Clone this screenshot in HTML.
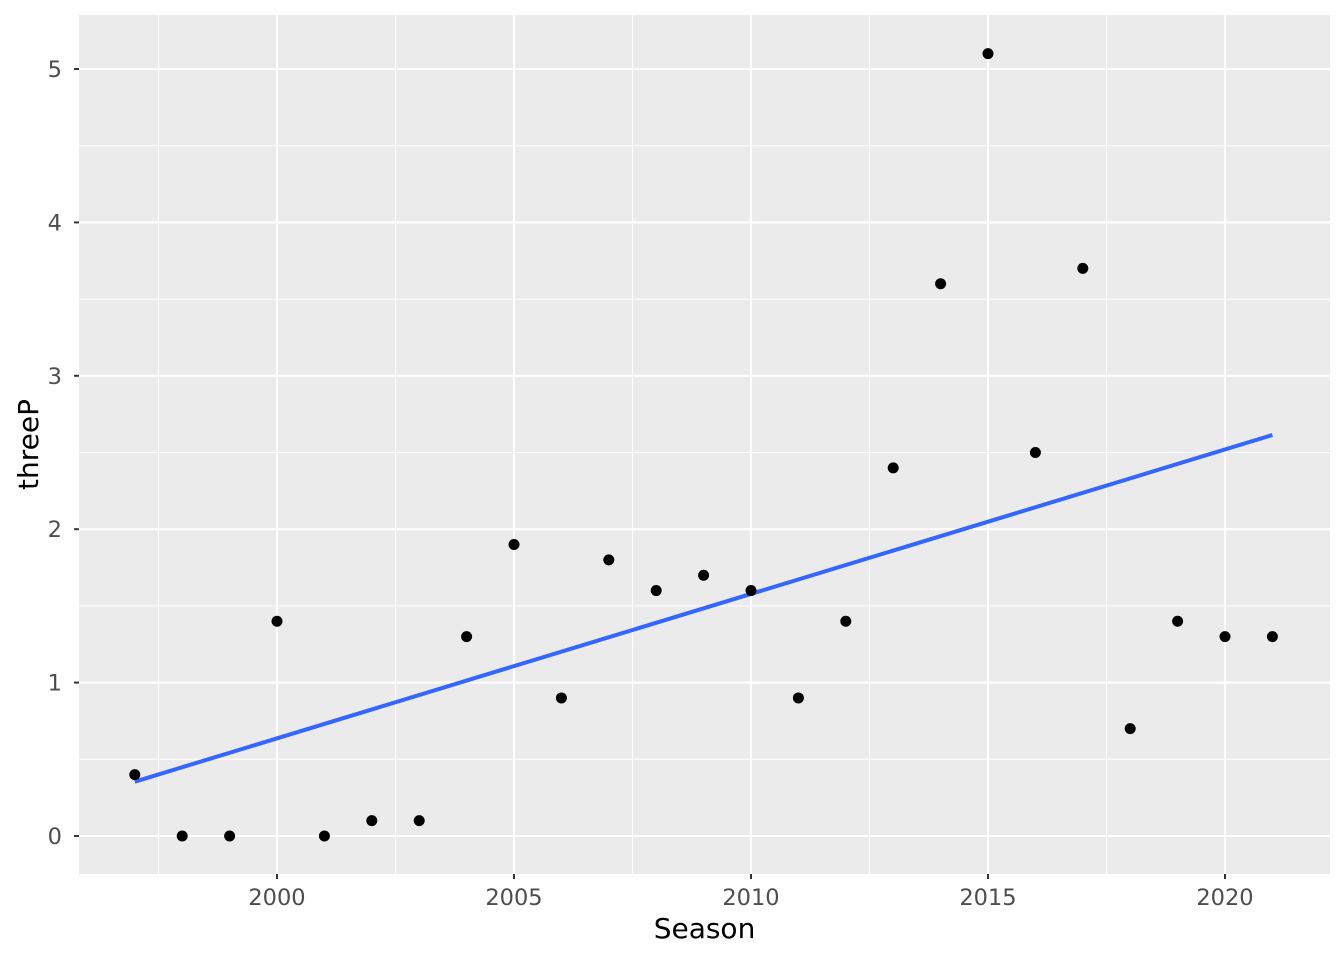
<!DOCTYPE html>
<html><head><meta charset="utf-8"><style>
body{margin:0;background:#fff;}
svg{display:block;font-family:"DejaVu Sans","Liberation Sans",sans-serif;}
</style></head><body>
<svg id="chart" width="1344" height="960"></svg>
<script>
const seasons=[1997,1998,1999,2000,2001,2002,2003,2004,2005,2006,2007,2008,2009,2010,2011,2012,2013,2014,2015,2016,2017,2018,2019,2020,2021];
const threeP=[0.4,0,0,1.4,0,0.1,0.1,1.3,1.9,0.9,1.8,1.6,1.7,1.6,0.9,1.4,2.4,3.6,5.1,2.5,3.7,0.7,1.4,1.3,1.3];
const xTicks=[2000,2005,2010,2015,2020];
const yTicks=[0,1,2,3,4,5];
const ns="http://www.w3.org/2000/svg";
const svg=document.getElementById('chart');
const L=79,R=1330,T=15,B=874;
const xs=v=>277+(v-2000)*47.4;
const ys=v=>836-v*153.4;
function mk(t,a,p){const e=document.createElementNS(ns,t);for(const k in a)e.setAttribute(k,a[k]);(p||svg).appendChild(e);return e;}
const panel=mk('rect',{x:L,y:T,width:R-L,height:B-T,fill:'#EBEBEB'});


const g=mk('g',{});


for(let i=0;i<xTicks.length;i++){const m=xTicks[i]-2.5;mk('line',{x1:xs(m),x2:xs(m),y1:T,y2:B,stroke:'#fff','stroke-width':1},g);}
mk('line',{x1:xs(2022.5),x2:xs(2022.5),y1:T,y2:B,stroke:'#fff','stroke-width':1},g);
for(let i=0;i<yTicks.length;i++){const m=yTicks[i]+0.5;mk('line',{x1:L,x2:R,y1:ys(m),y2:ys(m),stroke:'#fff','stroke-width':1},g);}
xTicks.forEach(v=>mk('line',{x1:xs(v),x2:xs(v),y1:T,y2:B,stroke:'#fff','stroke-width':2.1},g));
yTicks.forEach(v=>mk('line',{x1:L,x2:R,y1:ys(v),y2:ys(v),stroke:'#fff','stroke-width':2.1},g));
xTicks.forEach(v=>{mk('line',{x1:xs(v),x2:xs(v),y1:B,y2:B+5,stroke:'#333','stroke-width':2});
const t=mk('text',{x:xs(v),y:905,'text-anchor':'middle','font-size':22.5,fill:'#4D4D4D'});t.textContent=v;
});
yTicks.forEach(v=>{mk('line',{x1:L-5,x2:L,y1:ys(v),y2:ys(v),stroke:'#333','stroke-width':2});
const t=mk('text',{x:L-17,y:ys(v)+8,'text-anchor':'end','font-size':22.5,fill:'#4D4D4D'});t.textContent=v;
});
const n=seasons.length;const mx=seasons.reduce((a,b)=>a+b)/n,my=threeP.reduce((a,b)=>a+b)/n;
let sxy=0,sxx=0;for(let i=0;i<n;i++){sxy+=(seasons[i]-mx)*(threeP[i]-my);sxx+=(seasons[i]-mx)**2;}
const b=sxy/sxx,a=my-b*mx;
const x0=seasons[0],x1=seasons[n-1];
const ln=mk('line',{x1:xs(x0),y1:ys(a+b*x0),x2:xs(x1),y2:ys(a+b*x1),stroke:'#3366FF','stroke-width':4});


for(let i=0;i<n;i++){const c=mk('circle',{cx:xs(seasons[i]),cy:ys(threeP[i]),r:5.5,fill:'#000'});

}
const xt=mk('text',{x:(L+R)/2,y:938,'text-anchor':'middle','font-size':28,fill:'#000'});xt.textContent='Season';


const yt=mk('text',{x:0,y:0,'text-anchor':'middle','font-size':28,fill:'#000',transform:`translate(38,${(T+B)/2}) rotate(-90)`});yt.textContent='threeP';


</script>
</body></html>
